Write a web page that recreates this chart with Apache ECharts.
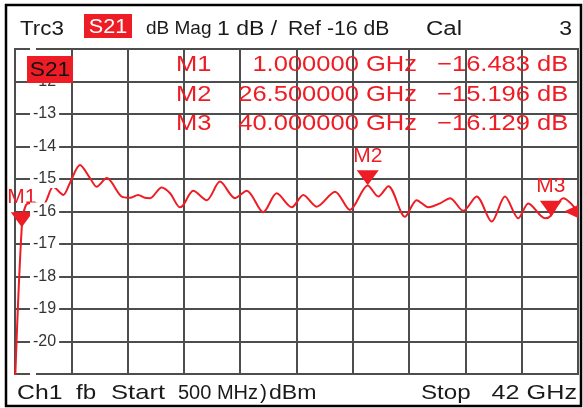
<!DOCTYPE html>
<html>
<head>
<meta charset="utf-8">
<style>
html, body { margin: 0; padding: 0; background: #fff; }
#main { width: 583px; height: 408px; }
</style>
</head>
<body>
<div id="main"></div>
<script src="https://cdn.jsdelivr.net/npm/echarts@6/dist/echarts.min.js"></script>
<script>
// 频率 (GHz)
var freqs = [0.5, 1.0, 1.31, 1.83, 2.56, 3.32, 4.06, 4.55, 5.29, 6.03, 6.52, 7.26, 8.36, 8.98, 9.57, 10.08, 10.45, 11.31, 11.93, 12.66, 12.91, 13.64, 14.63, 15.61, 16.72, 17.58, 18.80, 19.79, 20.90, 21.75, 22.74, 24.09, 25.19, 26.5, 27.28, 28.02, 29.25, 30.11, 30.97, 31.83, 32.57, 33.54, 34.53, 35.64, 36.62, 37.60, 38.34, 39.57, 40.0, 40.91, 42.0];
// S21 幅度 (dB)
var s21 = [-21.3, -16.48, -15.80, -15.74, -15.80, -15.24, -15.49, -15.12, -14.57, -14.97, -15.24, -14.97, -15.54, -15.58, -15.49, -15.58, -15.59, -15.26, -15.44, -15.87, -15.80, -15.36, -15.65, -15.08, -15.59, -15.36, -16.02, -15.44, -15.87, -15.49, -15.85, -15.39, -15.95, -15.20, -15.54, -15.22, -16.16, -15.65, -15.87, -15.75, -15.59, -15.98, -15.54, -16.31, -15.54, -16.21, -15.75, -16.21, -16.13, -15.59, -16.0];
// 标记
var markerNames = ['M1', 'M2', 'M3'];
var markerFreqs = [1.0, 26.5, 40.0];
var markerVals = [-16.483, -15.196, -16.129];
var refLevel = -16;
// 纵轴刻度标签
var yTickLabels = ['-12', '-13', '-14', '-15', '-16', '-17', '-18', '-19', '-20'];
// 页眉 / 页脚文字
var headerTexts = ['Trc3', 'dB Mag', '1 dB /', 'Ref -16 dB', 'Cal', '3'];
var footerTexts = ['Ch1', 'fb', 'Start', '500 MHz', ')', 'dBm', 'Stop', '42 GHz'];

var RED = '#ee1c24';
var GRID = '#4d4d4d';
var FONT = '"Liberation Sans", Arial, sans-serif';

function txt (x, y, text, size, color, align, sx) {
    return {
        type: 'text', x: x, y: y, z: 20, scaleX: sx || 1,
        style: {
            text: text, font: size + 'px ' + FONT, fill: color,
            align: align || 'left', textAlign: align || 'left',
            verticalAlign: 'middle', textVerticalAlign: 'middle'
        }
    };
}

// 页面上的文字和方框
function buildGraphic () {
    var g = [];
    // 外框
    g.push({ type: 'rect', z: 20, shape: { x: 6, y: 5, width: 575, height: 401 }, style: { fill: 'none', stroke: '#000', lineWidth: 2.5 } });
    // 页眉
    var hx = [20, 146, 217, 288, 426, 572];
    var hsz = [20, 19, 20, 20, 20, 20];
    var hs = [1.12, 1, 1.15, 1.06, 1.2, 1.15];
    headerTexts.forEach(function (t, i) {
        g.push(txt(hx[i], 29, t, hsz[i], '#1a1a1a', i === 5 ? 'right' : 'left', hs[i]));
    });
    g.push({ type: 'rect', z: 20, shape: { x: 84, y: 14, width: 48, height: 24 }, style: { fill: RED } });
    g.push(txt(108, 27, 'S21', 20, '#fff', 'center', 1.08));
    // 图内 S21 标签
    g.push({ type: 'rect', z: 20, shape: { x: 27, y: 56, width: 46, height: 27 }, style: { fill: RED } });
    g.push(txt(50, 70, 'S21', 21, '#111', 'center', 1.08));
    // 标记表
    var rowY = [65, 95, 124];
    markerNames.forEach(function (m, i) {
        g.push(txt(176, rowY[i], m, 22, RED, 'left', 1.16));
        g.push(txt(417, rowY[i], markerFreqs[i].toFixed(6) + ' GHz', 22, RED, 'right', 1.16));
        g.push(txt(530, rowY[i], '\u2212' + Math.abs(markerVals[i]).toFixed(3), 22, RED, 'right', 1.16));
        g.push(txt(537, rowY[i], 'dB', 22, RED, 'left', 1.16));
    });
    // 页脚
    var fx = [17, 76, 111, 178, 260, 269, 421, 577];
    var fsz = [21, 21, 21, 20, 21, 21, 21, 21];
    var fs = [1.18, 1.15, 1.22, 1, 1, 1.1, 1.15, 1.2];
    footerTexts.forEach(function (t, i) {
        g.push(txt(fx[i], 393, t, fsz[i], '#1a1a1a', i === 7 ? 'right' : 'left', fs[i]));
    });
    return g;
}

function initChart () {
    var chart = echarts.init(document.getElementById('main'), null, { renderer: 'canvas' });
    var data = freqs.map(function (f, i) { return [f, s21[i]]; });
    var marks = markerNames.map(function (m, i) {
        return { name: m, coord: [markerFreqs[i], markerVals[i]] };
    });
    // 参考电平箭头
    marks.push({
        name: 'ref', coord: [42, refLevel],
        symbol: 'path://M0,6 L13,0 L13,12 Z', symbolSize: [14, 13], symbolOffset: [-7, 0],
        label: { show: false }
    });
    var option = {
        animation: false,
        backgroundColor: '#fff',
        grid: { left: 15, top: 49, right: 5, bottom: 34, show: true, borderColor: GRID, borderWidth: 2, backgroundColor: '#fff' },
        xAxis: [
            { type: 'value', min: 0.5, max: 42, show: false },
            {
                type: 'value', min: 0, max: 10, interval: 1, position: 'bottom',
                axisLine: { show: false }, axisTick: { show: false }, axisLabel: { show: false },
                splitLine: { show: true, lineStyle: { color: GRID, width: 2 } }
            }
        ],
        yAxis: [
            {
                type: 'value', min: -21, max: -11, interval: 1,
                axisLine: { show: false }, axisTick: { show: false }, axisLabel: { show: false },
                splitLine: { show: true, lineStyle: { color: GRID, width: 2 } }
            },
            {
                type: 'value', min: -21, max: -11, interval: 1, position: 'left', offset: 0, z: 5,
                axisLine: { show: false }, axisTick: { show: false }, splitLine: { show: false },
                axisLabel: {
                    inside: true, margin: 15, color: '#333', fontSize: 16, fontFamily: FONT,
                    backgroundColor: '#fff', padding: [1, 3],
                    formatter: function (v) {
                        var s = String(Math.round(v));
                        return yTickLabels.indexOf(s) >= 0 ? s : '';
                    }
                }
            }
        ],
        series: [
            {
                type: 'line', xAxisIndex: 0, yAxisIndex: 0, data: data,
                showSymbol: false, smooth: 0.3, z: 3,
                lineStyle: { color: RED, width: 2 },
                itemStyle: { color: RED },
                markPoint: {
                    symbol: 'path://M0,0 L22,0 L11,15 Z',
                    symbolSize: [22, 15],
                    symbolOffset: [0, '-50%'],
                    itemStyle: { color: RED },
                    label: { show: true, position: 'top', distance: 4, formatter: '{b}', color: RED, fontSize: 21, fontFamily: FONT },
                    data: marks
                }
            }
        ],
        graphic: buildGraphic()
    };
    chart.setOption(option);
    return chart;
}

var chart = initChart();
window.onresize = function () {
    chart.resize();
};
</script>
</body>
</html>
